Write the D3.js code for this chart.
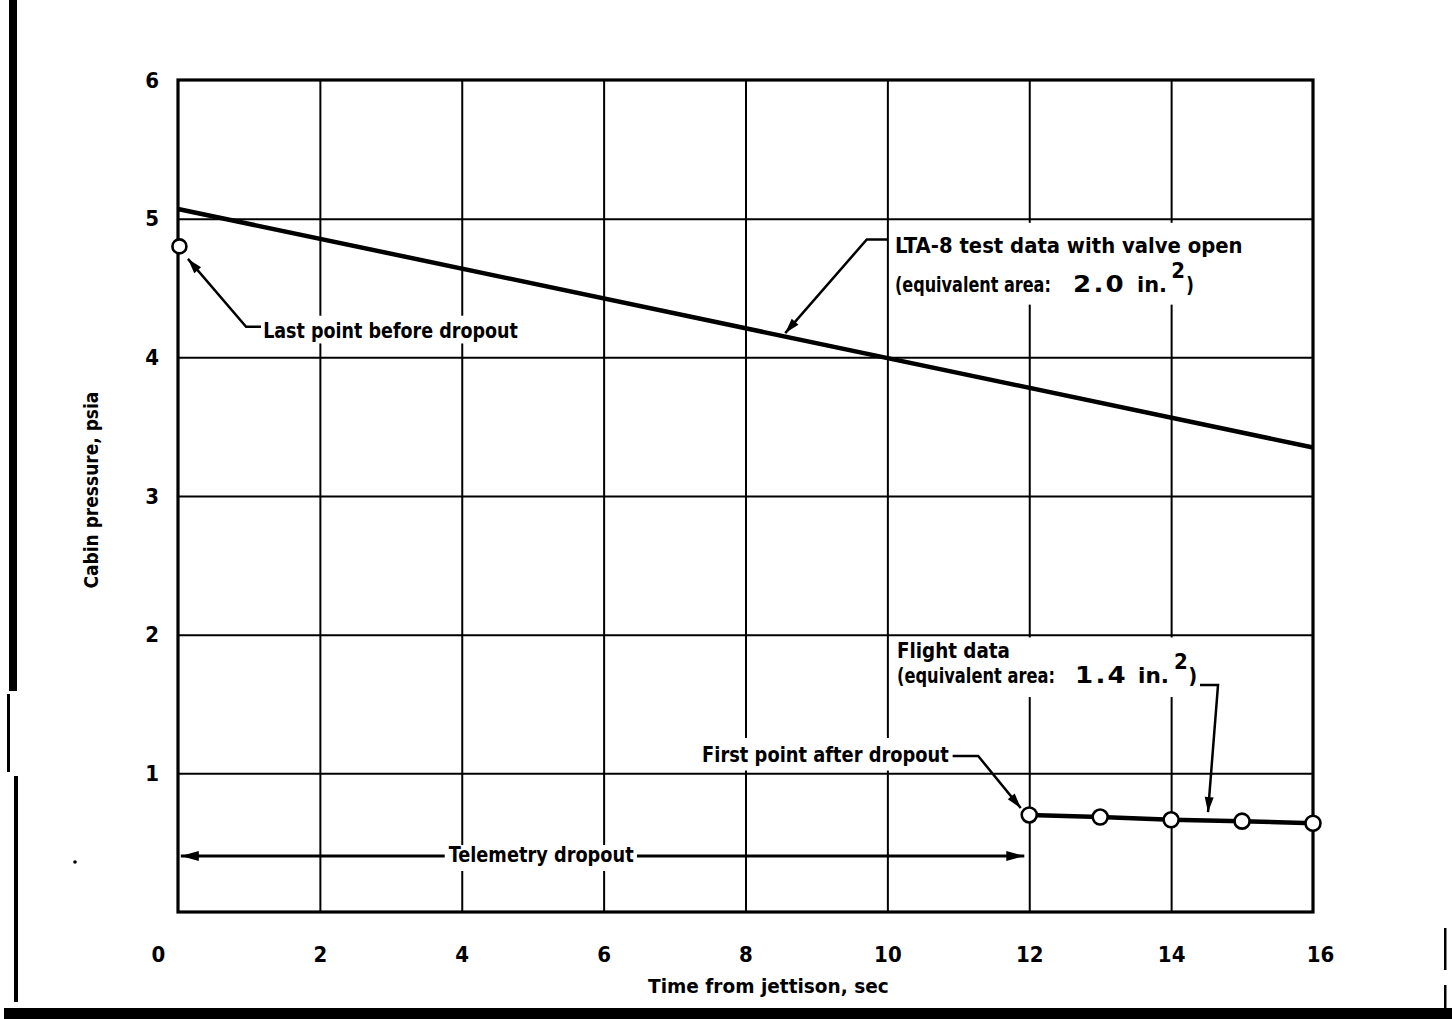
<!DOCTYPE html>
<html><head><meta charset="utf-8">
<script src="https://cdn.jsdelivr.net/npm/d3@7"></script>
<style>body{margin:0;background:#fff}svg{display:block}</style>
</head><body><svg id="c" width="1452" height="1019"></svg>
<script>
// ---- data ----
const xTicks = [0, 2, 4, 6, 8, 10, 12, 14, 16];
const yTicks = [0, 1, 2, 3, 4, 5, 6];
const testTime = [0, 16];
const testPressure = [5.07, 3.35];
const flightTime = [12, 13, 14, 15, 16];
const flightPressure = [0.70, 0.685, 0.665, 0.655, 0.64];
const lastTime = [0.02];
const lastPressure = [4.80];
const dropoutStart = 0.04, dropoutEnd = 11.93, dropoutLevel = 0.404;
const xTitle = "Time from jettison, sec";
const yTitle = "Cabin pressure, psia";

const svg = d3.select("#c");
const FONT = "'DejaVu Sans Condensed','Liberation Sans Narrow',sans-serif";
const WIDE = "'DejaVu Sans',sans-serif";
const x = d3.scaleLinear().domain([0, 16]).range([178, 1313]);
const y = d3.scaleLinear().domain([0, 6]).range([912, 80]);

// scan page border artifacts
svg.append("rect").attr("x", 9).attr("y", 0).attr("width", 8).attr("height", 691).attr("fill", "#000");
svg.append("rect").attr("x", 7).attr("y", 694).attr("width", 3).attr("height", 78).attr("fill", "#000");
svg.append("rect").attr("x", 14).attr("y", 776).attr("width", 4).attr("height", 226).attr("fill", "#000");
svg.append("rect").attr("x", 4).attr("y", 1008).attr("width", 1448).attr("height", 11).attr("fill", "#000");
svg.append("rect").attr("x", 1444).attr("y", 928).attr("width", 2.5).attr("height", 42).attr("fill", "#000");
svg.append("rect").attr("x", 1444).attr("y", 985).attr("width", 2.5).attr("height", 25).attr("fill", "#000");
svg.append("circle").attr("cx", 75).attr("cy", 862).attr("r", 1.8).attr("fill", "#000");

// grid
const g = svg.append("g");
g.append("g").attr("transform", `translate(0,${y(0)})`)
  .call(d3.axisBottom(x).tickValues(xTicks.slice(1, -1)).tickSize(-(y(0) - y(6))).tickFormat(""))
  .call(s => s.select(".domain").remove())
  .call(s => s.selectAll("line").attr("stroke", "#000").attr("stroke-width", 2));
g.append("g").attr("transform", `translate(${x(0)},0)`)
  .call(d3.axisLeft(y).tickValues(yTicks.slice(1, -1)).tickSize(-(x(16) - x(0))).tickFormat(""))
  .call(s => s.select(".domain").remove())
  .call(s => s.selectAll("line").attr("stroke", "#000").attr("stroke-width", 2));
svg.append("rect").attr("x", x(0)).attr("y", y(6)).attr("width", x(16) - x(0)).attr("height", y(0) - y(6))
  .attr("fill", "none").attr("stroke", "#000").attr("stroke-width", 3.2);

// tick labels
const xa = svg.append("g").attr("transform", `translate(0,${y(0)})`)
  .call(d3.axisBottom(x).tickValues(xTicks).tickSize(0).tickPadding(34).tickFormat(d3.format("d")));
xa.select(".domain").remove();
xa.selectAll("text").attr("font-family", FONT).attr("font-weight", "bold").attr("font-size", 22).attr("fill", "#000")
  .attr("dx", d => d === 0 ? -20 : (d === 16 ? 7 : 0));
const ya = svg.append("g").attr("transform", `translate(${x(0)},0)`)
  .call(d3.axisLeft(y).tickValues(yTicks.slice(1)).tickSize(0).tickPadding(19).tickFormat(d3.format("d")));
ya.select(".domain").remove();
ya.selectAll("text").attr("font-family", FONT).attr("font-weight", "bold").attr("font-size", 22).attr("fill", "#000");

// helpers
// fitted text: drawn at a size, horizontally scaled to a target width
function fit(px, py, str, width, opts = {}) {
  const gg = svg.append("g");
  const t = gg.append("text").attr("font-family", opts.family || FONT).attr("font-weight", "bold")
    .attr("font-size", opts.size || 22).text(str);
  if (opts.ls) t.attr("letter-spacing", opts.ls);
  const w = t.node().getComputedTextLength();
  const sx = width ? width / w : 1;
  const ox = opts.anchor === "end" ? -w : (opts.anchor === "middle" ? -w / 2 : 0);
  t.attr("x", ox);
  gg.attr("transform", `translate(${px},${py}) ${opts.rotate ? "rotate(" + opts.rotate + ")" : ""} scale(${sx},1)`);
  return gg;
}
function label(xd, yd, str, width, opts = {}) { return fit(x(xd), y(yd), str, width, opts); }
function whiteBox(x0, x1, y0, y1) {
  svg.append("rect").attr("x", x(x0)).attr("y", y(y0)).attr("width", x(x1) - x(x0)).attr("height", y(y1) - y(y0)).attr("fill", "#fff");
}
function arrowHead(px1, py1, px2, py2, len = 15, w = 4.5) {
  const a = Math.atan2(py2 - py1, px2 - px1);
  const bx = px2 - len * Math.cos(a), by = py2 - len * Math.sin(a);
  const nx = -Math.sin(a) * w, ny = Math.cos(a) * w;
  svg.append("path").attr("d", `M${px2},${py2}L${bx + nx},${by + ny}L${bx - nx},${by - ny}Z`).attr("fill", "#000");
}
function leader(pts) { // pts in data coords, last point is arrow tip
  const p = pts.map(d => [x(d[0]), y(d[1])]);
  svg.append("path").attr("d", d3.line()(p)).attr("fill", "none").attr("stroke", "#000").attr("stroke-width", 2.5);
  const n = p.length;
  arrowHead(p[n - 2][0], p[n - 2][1], p[n - 1][0], p[n - 1][1]);
}

// axis titles
fit((x(0) + x(16)) / 2 + 23, 993, xTitle, 241, { size: 20, anchor: "middle" });
fit(98, y(3) - 6, yTitle, 197, { size: 19, anchor: "middle", rotate: -90 });

// white backgrounds behind annotations
whiteBox(10.04, 15.15, 4.97, 4.38);
whiteBox(10.08, 14.42, 1.98, 1.55);
whiteBox(7.36, 10.9, 1.255, 1.02);
whiteBox(1.16, 4.88, 4.30, 4.10);

// data lines
svg.append("path").attr("d", d3.line()(testTime.map((t, i) => [x(t), y(testPressure[i])])))
  .attr("stroke", "#000").attr("stroke-width", 4.5).attr("fill", "none");
svg.append("path").attr("d", d3.line()(flightTime.map((t, i) => [x(t), y(flightPressure[i])])))
  .attr("stroke", "#000").attr("stroke-width", 4.5).attr("fill", "none");
svg.selectAll(".fp").data(flightTime).enter().append("circle")
  .attr("cx", d => x(d)).attr("cy", (d, i) => y(flightPressure[i])).attr("r", 7.5)
  .attr("fill", "#fff").attr("stroke", "#000").attr("stroke-width", 2.6);
svg.selectAll(".lp").data(lastTime).enter().append("circle")
  .attr("cx", d => x(d)).attr("cy", (d, i) => y(lastPressure[i])).attr("r", 7)
  .attr("fill", "#fff").attr("stroke", "#000").attr("stroke-width", 2.6);

// Telemetry dropout double arrow
svg.append("line").attr("x1", x(dropoutStart)).attr("x2", x(dropoutEnd)).attr("y1", y(dropoutLevel)).attr("y2", y(dropoutLevel))
  .attr("stroke", "#000").attr("stroke-width", 3);
whiteBox(3.76, 6.47, 0.483, 0.296);
arrowHead(x(dropoutStart) + 30, y(dropoutLevel), x(dropoutStart), y(dropoutLevel), 18, 5);
arrowHead(x(dropoutEnd) - 30, y(dropoutLevel), x(dropoutEnd), y(dropoutLevel), 18, 5);
label(5.12, 0.36, "Telemetry dropout", 185, { anchor: "middle", size: 21 });

// Last point before dropout
leader([[1.17, 4.22], [0.96, 4.22], [0.14, 4.71]]);
label(1.20, 4.14, "Last point before dropout", 255);

// LTA-8 label
leader([[10.0, 4.85], [9.71, 4.85], [8.56, 4.175]]);
label(10.107, 4.752, "LTA-8 test data with valve open", 348);
label(10.107, 4.471, "(equivalent area:", 156);
label(12.617, 4.471, "2.0", 53, { size: 23, family: WIDE, ls: 2 });
label(13.519, 4.471, "in.", 30);
label(14.0, 4.575, "2", null, { size: 22 });
label(14.21, 4.471, ")", 8);

// Flight data label
label(10.136, 1.832, "Flight data", 113);
label(10.136, 1.651, "(equivalent area:", 158);
label(12.645, 1.651, "1.4", 53, { size: 23, family: WIDE, ls: 2 });
label(13.533, 1.651, "in.", 31);
label(14.04, 1.75, "2", null, { size: 22 });
label(14.24, 1.651, ")", 9);
leader([[14.407, 1.637], [14.661, 1.637], [14.52, 0.72]]);

// First point after dropout
label(10.87, 1.08, "First point after dropout", 247, { anchor: "end" });
leader([[10.92, 1.125], [11.28, 1.125], [11.88, 0.75]]);
</script></body></html>
